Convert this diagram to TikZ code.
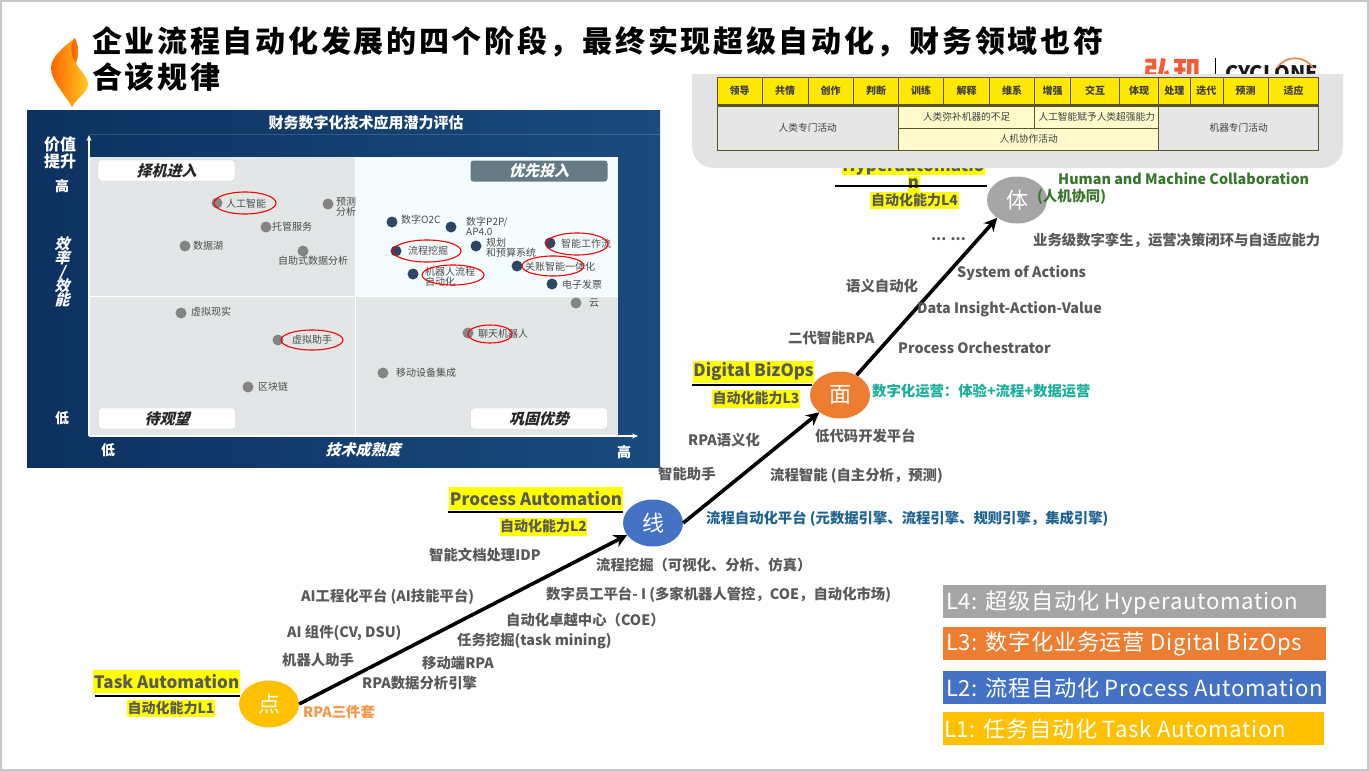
\documentclass[tikz,border=0pt]{standalone}
\usepackage{fontspec}
\setmainfont{Noto Sans CJK SC}
\newfontfamily\cjkit[FakeSlant=0.25]{Noto Sans CJK SC}
\newfontfamily\titlef[LetterSpace=9]{Noto Sans CJK SC}
\newfontfamily\legf[LetterSpace=3]{Noto Sans CJK SC}
\usetikzlibrary{arrows.meta,shapes.geometric,calc}
\newcommand{\fsz}[1]{\fontsize{#1}{#1}\selectfont}
\definecolor{lab}{HTML}{595959}
\definecolor{tagy}{HTML}{FFFF00}
\definecolor{panelA}{HTML}{0C3160}
\definecolor{panelB}{HTML}{1A4B7E}
\definecolor{quad}{HTML}{E2E6E6}
\definecolor{dotg}{HTML}{848484}
\definecolor{dotb}{HTML}{2C4766}
\definecolor{cellh}{HTML}{FFE800}
\definecolor{cellg}{HTML}{E6E6E6}
\definecolor{celly}{HTML}{FFF9CC}
\definecolor{cellb}{HTML}{5A5426}
\tikzset{
  x=1pt,y=-1pt,
  lbl/.style={anchor=west,inner sep=0pt,yshift=-1pt,text=lab,font=\fsz{14.35}\bfseries},
  tagname/.style={fill=tagy,inner sep=0pt,text=lab,font=\fsz{17}\bfseries},
  taglevel/.style={fill=tagy,inner sep=0pt,text=lab,font=\fsz{14}\bfseries},
  stage/.style={ellipse,inner sep=0pt,minimum width=60,minimum height=47,text=white,font=\fsz{22}},
  flow/.style={line width=3.6pt,-{Stealth[length=13pt,width=13pt]}},
  rule/.style={line width=2pt,black},
  gdot/.style={circle,fill=dotg,inner sep=0pt,minimum size=11},
  bdot/.style={circle,fill=dotb,inner sep=0pt,minimum size=11},
  chartt/.style={inner sep=0pt,text=black!70,font=\fsz{10},align=left},
  ring/.style={ellipse,draw=red,line width=1.1pt,inner sep=0pt},
  quadtag/.style={rounded corners=3pt,draw=black!20,fill=white,minimum height=21,minimum width=137,inner sep=0pt,text=black!85,font=\cjkit\fsz{15}\bfseries},
  axtxt/.style={inner sep=0pt,text=white,font=\fsz{14}\bfseries},
  axit/.style={inner sep=0pt,text=white,font=\cjkit\fsz{15}\bfseries},
  cellbase/.style={draw=cellb,line width=.7pt,inner sep=0pt,font=\fsz{9.7},text=black!75},
  legbox/.style={anchor=north west,inner sep=0pt,minimum width=383,minimum height=33},
  legt/.style={anchor=west,inner sep=0pt,yshift=-1pt,text=white,font=\legf\fsz{22.2}},
}
\begin{document}
\begin{tikzpicture}
\useasboundingbox (0,0) rectangle (1369,771);
\fill[white] (0,0) rectangle (1369,771);
\draw[black!22,line width=4pt] (0,0) rectangle (1369,771);

% flame logo
\shade[left color={rgb,255:red,255;green,100;blue,0},right color={rgb,255:red,255;green,205;blue,35}]
 (75,38) .. controls (65,46) and (51,56) .. (51,68) .. controls (51,80) and (63,92) .. (72,107)
 .. controls (77,98) and (88,92) .. (88,84) .. controls (88,76) and (79,70) .. (76,63)
 .. controls (72,58) and (72,46) .. (75,38) -- cycle;
\shade[left color={rgb,255:red,245;green,90;blue,0},right color={rgb,255:red,255;green,130;blue,10}]
 (75,38) .. controls (70,44) and (70,56) .. (76,63) .. controls (79,56) and (79,46) .. (75,38) -- cycle;

% title
\node[anchor=west,inner sep=0pt,font=\titlef\fsz{30}\bfseries,text=black] (title1) at (92,42) {企业流程自动化发展的四个阶段，最终实现超级自动化，财务领域也符};
\node[anchor=west,inner sep=0pt,font=\titlef\fsz{30}\bfseries,text=black] (title2) at (92,77) {合该规律};

% company logo (partly behind the grey panel)
\node[anchor=west,inner sep=0pt,font=\fsz{30}\bfseries,text={rgb,255:red,245;green,90;blue,50}] (logoa) at (1143,72) {弘玑};
\node[anchor=west,inner sep=0pt,font=\fsz{20}\bfseries,text=black!90] (logob) at (1225,73) {CYCLONE};
\draw[black,line width=.6pt] (1215,58) -- (1215,76);
\draw[line width=1.6pt,draw={rgb,255:red,240;green,130;blue,70}] (1277,68) .. controls (1285,55) and (1305,55) .. (1313,68);

% L4 name (clipped by the panel)
\node[tagname,minimum width=141,minimum height=17] (hyper) at (913.5,166) {Hyperautomatio};
\node[tagname,minimum width=12,minimum height=17] (hypern) at (913.5,184) {n};

% grey panel with table
\fill[black!11] (692,74) -- (1343,74) -- (1343,145) .. controls (1343,160) and (1333,168) .. (1320,168) -- (715,168) .. controls (702,168) and (692,160) .. (692,145) -- cycle;
\foreach \a/\b/\t in {717/762.4/领导,762.4/807.9/共情,807.9/853.5/创作,853.5/898.6/判断,898.6/943.7/训练,943.7/989.6/解释,989.6/1034.7/维系,1034.7/1070.7/增强,1070.7/1119.3/交互,1119.3/1158.8/体现,1158.8/1190/处理,1190/1222.9/迭代,1222.9/1268.5/预测,1268.5/1318.5/适应}{
  \node[cellbase,fill=cellh,font=\fsz{10}\bfseries,minimum width=\b-\a,minimum height=27] (h\a) at ({(\a+\b)/2},91) {\t};
}
\node[cellbase,fill=cellg,minimum width=181.6,minimum height=44] (ca) at (807.8,128) {人类专门活动};
\node[cellbase,fill=celly,minimum width=136.1,minimum height=22] (cb) at (966.65,117) {人类弥补机器的不足};
\node[cellbase,fill=celly,minimum width=124.1,minimum height=22] (cc) at (1096.75,117) {人工智能赋予人类超强能力};
\node[cellbase,fill=celly,minimum width=260.2,minimum height=22] (cd) at (1028.7,139) {人机协作活动};
\node[cellbase,fill=cellg,minimum width=159.7,minimum height=44] (ce) at (1238.65,128) {机器专门活动};
\draw[cellb,line width=1.2pt] (717,105) -- (1318.5,105);

% chart panel
\shade[left color=panelA,right color=panelB] (27,110) rectangle (660,467);
\draw[white,opacity=.15] (90,134) -- (660,134);
\fill[quad] (89,157) rectangle (618,435);
\fill[white!96!cyan] (355.5,157) rectangle (618,296);
\draw[white,line width=1pt] (89,296) -- (618,296) (355.5,157) -- (355.5,435);
\coordinate (ax0) at (89,436);
\coordinate (axy) at (89,135);
\coordinate (axx) at (638,436);
\draw[white,line width=1.2pt,-{Stealth[length=6pt,width=5pt]}] (ax0) -- (axy);
\draw[white,line width=1.2pt,-{Stealth[length=6pt,width=5pt]}] (ax0) -- (axx);
\node[axtxt,font=\fsz{15}\bfseries] (ct) at (366,123) {财务数字化技术应用潜力评估};
\node[axtxt,align=center,font=\fsz{16}\bfseries] (cv) at (60,153) {价值\\[1pt]提升};
\node[axtxt] (c1) at (62,186) {高};
\node[axit] (c2) at (62,244) {效};
\node[axit] (c3) at (62,258) {率};
\node[axit] (c4) at (62,273) {/};
\node[axit] (c5) at (62,286) {效};
\node[axit] (c6) at (62,300) {能};
\node[axtxt] (c7) at (62,418) {低};
\node[axtxt] (c8) at (108,450) {低};
\node[axit] (c9) at (363,450) {技术成熟度};
\node[axtxt] (c10) at (624,452) {高};
\node[quadtag] (q1) at (166.5,170.5) {择机进入};
\node[quadtag,text=white,draw=none,fill={rgb,255:red,100;green,122;blue,132}] (q2) at (539,171) {优先投入};
\node[quadtag] (q3) at (167,418.5) {待观望};
\node[quadtag] (q4) at (539,418.5) {巩固优势};

% chart items: dot, then label
\node[gdot] (d1) at (217,203) {};
\node[chartt,anchor=west] (t1) at (226,203.5) {人工智能};
\node[gdot] (d2) at (328,204) {};
\node[chartt,anchor=west] (t2) at (336,207) {预测\\分析};
\node[gdot] (d3) at (266,227) {};
\node[chartt,anchor=west] (t3) at (272,227) {托管服务};
\node[gdot] (d4) at (185,246) {};
\node[chartt,anchor=west] (t4) at (193,246) {数据湖};
\node[gdot] (d5) at (303,251) {};
\node[chartt] (t5) at (313,261) {自助式数据分析};
\node[bdot] (d6) at (392,222) {};
\node[chartt,anchor=west] (t6) at (401,220) {数字O2C};
\node[bdot] (d7) at (451,227) {};
\node[chartt,anchor=west] (t7) at (466,226) {数字P2P/\\AP4.0};
\node[bdot] (d8) at (396,251) {};
\node[chartt,anchor=west] (t8) at (408,251) {流程挖掘};
\node[bdot] (d9) at (476,246) {};
\node[chartt,anchor=west] (t9) at (486,248) {规划\\和预算系统};
\node[bdot] (d10) at (550,243) {};
\node[chartt,anchor=west] (t10) at (561,244) {智能工作流};
\node[bdot] (d11) at (413,274) {};
\node[chartt,anchor=west] (t11) at (425,277) {机器人流程\\自动化};
\node[bdot] (d12) at (517,266) {};
\node[chartt,anchor=west] (t12) at (525,267) {关账智能一体化};
\node[bdot] (d13) at (552,284) {};
\node[chartt,anchor=west] (t13) at (562,285) {电子发票};
\node[gdot] (d14) at (181,313) {};
\node[chartt,anchor=west] (t14) at (191,312) {虚拟现实};
\node[gdot] (d15) at (278,340) {};
\node[chartt,anchor=west] (t15) at (292,340) {虚拟助手};
\node[gdot] (d16) at (248,387) {};
\node[chartt,anchor=west] (t16) at (258,387) {区块链};
\node[gdot] (d17) at (576,303) {};
\node[chartt,anchor=west] (t17) at (589,303) {云};
\node[gdot] (d18) at (468,333) {};
\node[chartt,anchor=west] (t18) at (478,334) {聊天机器人};
\node[gdot] (d19) at (383,373) {};
\node[chartt,anchor=west] (t19) at (396,373) {移动设备集成};
\node[ring,minimum width=62,minimum height=22] (r1) at (245,203) {};
\node[ring,minimum width=68,minimum height=22] (r2) at (427,251) {};
\node[ring,minimum width=62,minimum height=22] (r3) at (577,244) {};
\node[ring,minimum width=62,minimum height=20] (r4) at (453,275) {};
\node[ring,minimum width=62,minimum height=20] (r5) at (553,266) {};
\node[ring,minimum width=62,minimum height=20] (r6) at (312,340) {};
\node[ring,minimum width=44,minimum height=18] (r7) at (490,334) {};

% stages
\node[stage,fill={rgb,255:red,255;green,192;blue,0}] (pt) at (269,704) {点};
\node[stage,fill={rgb,255:red,68;green,114;blue,196}] (ln) at (653,523) {线};
\node[stage,fill={rgb,255:red,237;green,125;blue,49}] (fc) at (840,395) {面};
\node[stage,fill={rgb,255:red,165;green,165;blue,165}] (bd) at (1017,200) {体};
\draw[flow] (pt.east) -- (ln.205);
\draw[flow] (ln.east) -- (fc.220);
\draw[flow] (fc.50) -- (bd.222);

% stage names
\node[tagname,minimum width=147,minimum height=23] (n1) at (166.5,681.5) {Task Automation};
\coordinate (u1a) at (95,696); \coordinate (u1b) at (240,696);
\draw[rule] (u1a) -- (u1b);
\node[taglevel,minimum width=88,minimum height=17] (v1) at (171,708.5) {自动化能力L1};
\node[tagname,minimum width=174,minimum height=23] (n2) at (536,498.5) {Process Automation};
\coordinate (u2a) at (448,512); \coordinate (u2b) at (623,512);
\draw[rule] (u2a) -- (u2b);
\node[taglevel,minimum width=87,minimum height=18] (v2) at (543.5,526.5) {自动化能力L2};
\node[tagname,minimum width=121,minimum height=22] (n3) at (753.5,371.5) {Digital BizOps};
\coordinate (u3a) at (692,385); \coordinate (u3b) at (812,385);
\draw[rule] (u3a) -- (u3b);
\node[taglevel,minimum width=88,minimum height=18] (v3) at (756,398.5) {自动化能力L3};
\coordinate (u4a) at (835,186); \coordinate (u4b) at (987,186);
\draw[rule] (u4a) -- (u4b);
\node[taglevel,minimum width=89,minimum height=17] (v4) at (914.5,200) {自动化能力L4};

% capability labels
\node[lbl,text={rgb,255:red,247;green,150;blue,70}] (a1) at (303,711) {RPA三件套};
\node[lbl] (a2) at (362,682) {RPA数据分析引擎};
\node[lbl] (a3) at (422,662) {移动端RPA};
\node[lbl] (a4) at (457,640) {任务挖掘(task mining)};
\node[lbl] (a5) at (506,619) {自动化卓越中心（COE）};
\node[lbl] (a6) at (546,594) {数字员工平台- I (多家机器人管控，COE，自动化市场)};
\node[lbl] (a7) at (596,564) {流程挖掘（可视化、分析、仿真）};
\node[lbl] (a8) at (429,554) {智能文档处理IDP};
\node[lbl] (a9) at (301,596) {AI工程化平台 (AI技能平台)};
\node[lbl] (a10) at (287,632) {AI 组件(CV, DSU)};
\node[lbl] (a11) at (282,659) {机器人助手};
\node[lbl,text={rgb,255:red,31;green,99;blue,145}] (a12) at (706,518) {流程自动化平台 (元数据引擎、流程引擎、规则引擎，集成引擎)};
\node[lbl] (a13) at (770,475) {流程智能 (自主分析，预测)};
\node[lbl] (a14) at (815,435) {低代码开发平台};
\node[lbl] (a15) at (658,473) {智能助手};
\node[lbl] (a16) at (688,439) {RPA语义化};
\node[lbl,text={rgb,255:red,26;green,175;blue,154}] (a17) at (872,390) {数字化运营：体验+流程+数据运营};
\node[lbl] (a18) at (898,347) {Process Orchestrator};
\node[lbl] (a19) at (788,337) {二代智能RPA};
\node[lbl] (a20) at (917,308) {Data Insight-Action-Value};
\node[lbl] (a21) at (846,285) {语义自动化};
\node[lbl] (a22) at (957,272) {System of Actions};
\node[lbl] (a23) at (931,238) {... ...};
\node[lbl] (a24) at (1033,239) {业务级数字孪生，运营决策闭环与自适应能力};
\node[lbl,text={rgb,255:red,56;green,118;blue,44}] (a25) at (1058,178) {Human and Machine Collaboration};
\node[lbl,text={rgb,255:red,56;green,118;blue,44}] (a26) at (1037,196) {(人机协同)};

% legend
\node[legbox,fill={rgb,255:red,165;green,165;blue,165}] (l4) at (943,585) {};
\node[legt] (l4t) at (946,601.5) {L4: 超级自动化 Hyperautomation};
\node[legbox,fill={rgb,255:red,237;green,125;blue,49}] (l3) at (943,627) {};
\node[legt] (l3t) at (946,643) {L3: 数字化业务运营 Digital BizOps};
\node[legbox,fill={rgb,255:red,68;green,114;blue,196}] (l2) at (943,671) {};
\node[legt] (l2t) at (946,687) {L2: 流程自动化 Process Automation};
\node[legbox,minimum width=381,fill={rgb,255:red,255;green,192;blue,0}] (l1) at (943,712) {};
\node[legt] (l1t) at (944,728) {L1: 任务自动化 Task Automation};
\end{tikzpicture}
\end{document}
